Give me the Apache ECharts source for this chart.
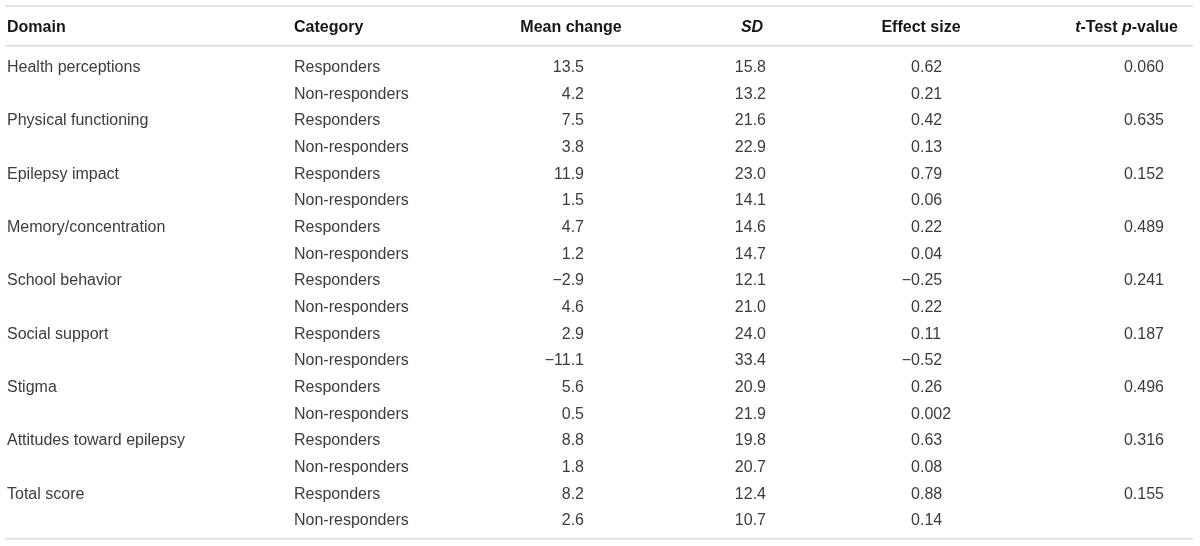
<!DOCTYPE html>
<html>
<head>
<meta charset="utf-8">
<script src="https://cdn.jsdelivr.net/npm/echarts@6/dist/echarts.min.js"></script>
<style>
  html, body { margin: 0; padding: 0; background: #fff; }
  #main { width: 1200px; height: 546px; }
</style>
</head>
<body>
<div id="main"></div>
<script>
// TABLE DATA
var columns = ['Domain', 'Category', 'Mean change', 'SD', 'Effect size', 't-Test p-value'];
var domains = ['Health perceptions', 'Physical functioning', 'Epilepsy impact', 'Memory/concentration',
  'School behavior', 'Social support', 'Stigma', 'Attitudes toward epilepsy', 'Total score'];
var groups = ['Responders', 'Non-responders'];
var meanChange = [13.5, 4.2, 7.5, 3.8, 11.9, 1.5, 4.7, 1.2, -2.9, 4.6, 2.9, -11.1, 5.6, 0.5, 8.8, 1.8, 8.2, 2.6];
var sd = [15.8, 13.2, 21.6, 22.9, 23.0, 14.1, 14.6, 14.7, 12.1, 21.0, 24.0, 33.4, 20.9, 21.9, 19.8, 20.7, 12.4, 10.7];
var effectSize = [0.62, 0.21, 0.42, 0.13, 0.79, 0.06, 0.22, 0.04, -0.25, 0.22, 0.11, -0.52, 0.26, 0.002, 0.63, 0.08, 0.88, 0.14];
var pValues = [0.060, 0.635, 0.152, 0.489, 0.241, 0.187, 0.496, 0.316, 0.155];

// LAYOUT (x in pixels on a 0..1200 axis, y in row units)
var HEADER_ROW = -1.5;
var RULES = [-2.25, -0.76, 17.73];
var headerPos = [
  {x: 7, align: 'left'}, {x: 294, align: 'left'}, {x: 571, align: 'center'},
  {x: 752, align: 'center'}, {x: 921, align: 'center'}, {x: 1178, align: 'right'}
];
var X_DOMAIN = 7, X_GROUP = 294, X_MEAN = 584, X_SD = 766, X_EFFECT = 920, X_P = 1164;
var TEXT_DY = 1.5;
var FONT = '"Liberation Sans", Arial, Helvetica, sans-serif';
var BODY_COLOR = '#3c3c3c';
var HEAD_COLOR = '#161616';

function minus(s) { return s.replace('-', '\u2212'); }

function cell(x, y, text, align) {
  return {
    type: 'text', x: x, y: y + TEXT_DY,
    style: {text: text, fill: BODY_COLOR, fontSize: 16, fontFamily: FONT,
      align: align, verticalAlign: 'middle'}
  };
}

var rows = meanChange.map(function (v, i) { return [i]; });

var myChart = echarts.init(document.getElementById('main'));

var option = {
  animation: false,
  grid: {left: 0, right: 0, top: 0, bottom: 0},
  xAxis: {type: 'value', min: 0, max: 1200, show: false},
  yAxis: {type: 'value', min: -2.475, max: 18, inverse: true, show: false},
  series: [
    {
      // horizontal rules
      type: 'custom',
      data: RULES.map(function (r) { return [r]; }),
      renderItem: function (params, api) {
        var a = api.coord([5, api.value(0)]);
        var b = api.coord([1193, api.value(0)]);
        return {
          type: 'line',
          shape: {x1: a[0], y1: a[1], x2: b[0], y2: b[1]},
          style: {stroke: '#dcdcdc', lineWidth: 1.5}
        };
      }
    },
    {
      // header
      type: 'custom',
      data: columns.map(function (c, i) { return [i]; }),
      renderItem: function (params, api) {
        var i = api.value(0);
        var pos = api.coord([headerPos[i].x, HEADER_ROW]);
        var text = columns[i];
        if (i === 3) text = '{i|SD}';
        if (i === 5) text = '{i|t}-Test {i|p}-value';
        return {
          type: 'text', x: pos[0], y: pos[1] + TEXT_DY,
          style: {
            text: text, fill: HEAD_COLOR, fontSize: 16, fontWeight: 'bold', fontFamily: FONT,
            align: headerPos[i].align, verticalAlign: 'middle',
            rich: {i: {fontStyle: 'italic', fontWeight: 'bold', fontSize: 16, fontFamily: FONT, fill: HEAD_COLOR}}
          }
        };
      }
    },
    {
      // body rows
      type: 'custom',
      data: rows,
      renderItem: function (params, api) {
        var r = api.value(0);
        var y = api.coord([0, r])[1];
        var kids = [];
        if (r % 2 === 0) {
          kids.push(cell(X_DOMAIN, y, domains[r / 2], 'left'));
          kids.push(cell(X_P, y, pValues[r / 2].toFixed(3), 'right'));
        }
        kids.push(cell(X_GROUP, y, groups[r % 2], 'left'));
        kids.push(cell(X_MEAN, y, minus(meanChange[r].toFixed(1)), 'right'));
        kids.push(cell(X_SD, y, sd[r].toFixed(1), 'right'));
        // effect size aligned on the decimal point
        var parts = minus(String(effectSize[r])).split('.');
        kids.push(cell(X_EFFECT, y, parts[0], 'right'));
        kids.push(cell(X_EFFECT, y, '.' + parts[1], 'left'));
        return {type: 'group', children: kids};
      }
    }
  ]
};
myChart.setOption(option);
</script>
</body>
</html>
